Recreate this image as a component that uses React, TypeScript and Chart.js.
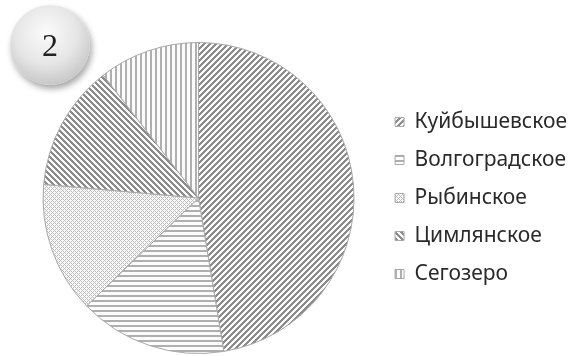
import React, { useEffect, useRef } from "react";
import { Chart, registerables } from "chart.js";

Chart.register(...registerables);

const categories = ["Куйбышевское", "Волгоградское", "Рыбинское", "Цимлянское", "Сегозеро"];
const shares = [47.4, 15.4, 13.6, 13.1, 10.5];
const badgeLabel = "2";

type Kind = "up" | "horiz" | "cross" | "down" | "vert";
const patternKinds: Kind[] = ["up", "horiz", "cross", "down", "vert"];

function makePattern(kind: Kind): CanvasPattern | string {
  const size = kind === "up" || kind === "down" ? 6 : kind === "cross" ? 4 : 5;
  const c = document.createElement("canvas");
  c.width = size;
  c.height = size;
  const ctx = c.getContext("2d");
  if (!ctx) return "#aaa";
  const img = ctx.createImageData(size, size);
  for (let y = 0; y < size; y++) {
    for (let x = 0; x < size; x++) {
      let v = 255;
      const m = (a: number) => ((a % size) + size) % size;
      if (kind === "up") v = m(x + y) < 3 ? 140 : 250;
      else if (kind === "horiz") v = m(y) < 2 ? 175 : 252;
      else if (kind === "cross") v = m(x + y) === 0 || m(x - y) === 0 ? 190 : 250;
      else if (kind === "down") v = m(x - y) < 3 ? 140 : 250;
      else if (kind === "vert") v = m(x) < 2 ? 175 : 252;
      const i = (y * size + x) * 4;
      img.data[i] = v;
      img.data[i + 1] = v;
      img.data[i + 2] = v;
      img.data[i + 3] = 255;
    }
  }
  ctx.putImageData(img, 0, 0);
  const main = document.createElement("canvas").getContext("2d");
  const p = main ? main.createPattern(c, "repeat") : null;
  return p || "#aaa";
}

export default function App() {
  const ref = useRef<HTMLCanvasElement | null>(null);
  useEffect(() => {
    document.body.style.margin = "0";
    if (!ref.current) return;
    const patterns = patternKinds.map(makePattern);
    const chart = new Chart(ref.current, {
      type: "pie",
      data: {
        labels: categories,
        datasets: [
          {
            data: shares,
            backgroundColor: patterns as any,
            borderColor: "#a8a8a8",
            borderWidth: 1,
          },
        ],
      },
      options: {
        responsive: false,
        animation: false,
        layout: { padding: { top: 42, bottom: 2, left: 19, right: 4 } },
        plugins: {
          tooltip: { enabled: false },
          legend: {
            position: "right",
            labels: {
              boxWidth: 9,
              boxHeight: 9,
              padding: 17,
              color: "#2a2a2a",
              font: { family: "Noto Sans", size: 21 },
            },
          },
        },
      },
    });
    return () => chart.destroy();
  }, []);
  return (
    <div style={{ position: "relative", width: 581, height: 356 }}>
      <canvas ref={ref} width={581} height={356} />
      <div
        style={{
          position: "absolute",
          left: 10,
          top: 5,
          width: 80,
          height: 80,
          borderRadius: "50%",
          background:
            "radial-gradient(circle at 45% 35%, #fbfbfb 0%, #e6e6e6 45%, #c4c4c4 80%, #9a9a9a 100%)",
          boxShadow: "2px 4px 6px rgba(0,0,0,0.35)",
          display: "flex",
          alignItems: "center",
          justifyContent: "center",
          fontFamily: "'Liberation Serif', serif",
          fontSize: 32,
          color: "#222",
        }}
      >
        {badgeLabel}
      </div>
    </div>
  );
}
